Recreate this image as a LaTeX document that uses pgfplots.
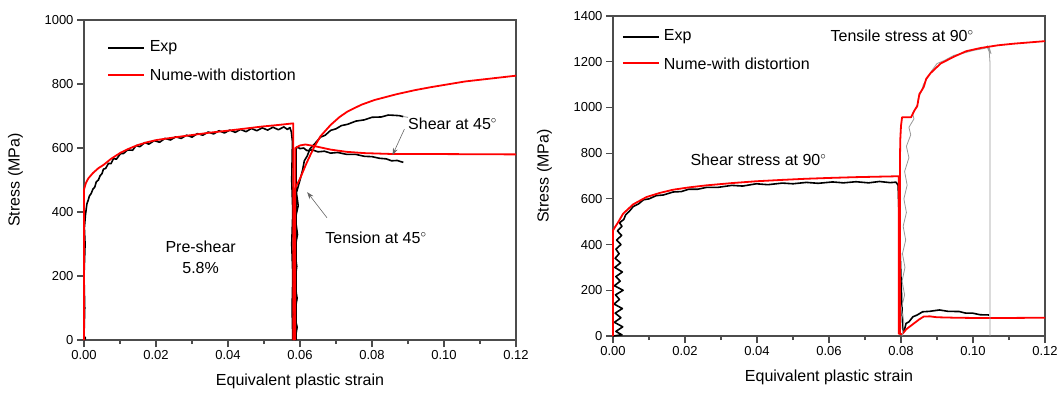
\documentclass[border=0pt]{standalone}
\usepackage{fontspec}
\setmainfont{Liberation Sans}
\usepackage{pgfplots}
\pgfplotsset{compat=1.18}
\usetikzlibrary{arrows.meta}

\tikzset{
  expline/.style={black, line width=1.6pt, line join=round},
  numline/.style={red, line width=1.8pt, line join=round},
  greyline/.style={black!40, line width=0.8pt, line join=round},
  lbl/.style={font=\fontsize{16}{19}\selectfont, inner sep=0pt, text=black},
}
\pgfplotsset{
  myax/.style={
    scale only axis, width=432pt, height=320pt, anchor=south west,
    xmin=0, xmax=0.12, ymin=0,
    xtick={0,0.02,0.04,0.06,0.08,0.10,0.12}, minor x tick num=1,
    axis line style={black!70, line width=1.2pt},
    every tick/.style={black!70, line width=1.2pt},
    major tick length=7pt, minor tick length=4pt,
    tick align=outside, xtick pos=bottom, ytick pos=left,
    /pgf/number format/assume math mode=true,
    /pgf/number format/1000 sep={},
    xticklabel style={/pgf/number format/.cd, fixed, fixed zerofill, precision=2, assume math mode=true},
    scaled x ticks=false,
    ticklabel style={font=\fontsize{13}{15}\selectfont},
    label style={font=\fontsize{16}{19}\selectfont},
    xlabel={Equivalent plastic strain}, ylabel={Stress (MPa)},
    xlabel style={at={(axis description cs:0.5,-0.128)}, anchor=center},
    ylabel style={at={(axis description cs:-0.1586,0.5)}, anchor=center},
    clip=false,
  },
}

\begin{document}
\begin{tikzpicture}
\useasboundingbox (0,0) rectangle (1062pt,392pt);

% ---------------- left panel ----------------
\begin{axis}[myax, at={(84pt,52pt)}, ymax=1000, ytick={0,200,...,1000}]
\addplot[expline] table {
0 0
0.0004 6
0 12
0.0002 100
0 200
0.0003 300
0.0001 350
0.0004 390
0.0008 425
0.0012 438
0.0015 450
0.0020 458
0.0025 472
0.0030 478
0.0034 494
0.0040 500
0.0045 514
0.0050 520
0.0054 534
0.0060 536
0.0068 552
0.0075 551
0.0082 567
0.009 565
0.0101 582
0.0110 583
0.0121 594
0.0135 593
0.0145 608
0.0155 604
0.0169 617
0.0180 612
0.0195 623
0.0210 618
0.0225 630
0.0240 625
0.0255 635
0.0270 630
0.0285 640
0.0300 634
0.0315 645
0.0330 640
0.0345 650
0.0360 644
0.0375 654
0.0390 647
0.0405 656
0.0420 649
0.0435 658
0.0450 651
0.0465 661
0.0480 654
0.0495 663
0.0510 656
0.0525 665
0.0540 657
0.0555 666
0.0565 658
0.0572 664
0.0576 650
0.0579 620
0.0577 500
0.0580 400
0.0577 300
0.0580 200
0.0578 100
0.0580 0
};
\addplot[numline] table {
0 0
0 470
0.0005 490
0.0012 505
0.0025 522
0.004 537
0.0054 547
0.0075 566
0.0101 585
0.0125 598
0.0149 609
0.0175 618
0.0202 625
0.025 633
0.0303 641
0.035 648
0.0398 654
0.045 661
0.0494 667
0.054 672
0.0581 677
0.0581 0
};
% exp tension at 45
\addplot[expline] table {
0.0586 0
0.0592 40
0.0584 80
0.0592 130
0.0585 180
0.0591 230
0.0585 280
0.0593 330
0.0587 380
0.0595 420
0.0590 460
0.0600 500
0.0607 530
0.0612 560
0.0620 575
0.0628 598
0.0640 612
0.0657 634
0.0670 640
0.0685 655
0.0700 660
0.0715 670
0.0732 674
0.0755 684
0.0779 688
0.0800 696
0.0826 697
0.0845 703
0.0864 702
0.0876 701
0.0887 698
};
% exp shear at 45
\addplot[expline] table {
0.0589 0
0.0589 595
0.0592 604
0.0600 598
0.0610 600
0.0619 592
0.0635 594
0.0650 588
0.0668 590
0.0685 584
0.0705 586
0.0730 580
0.0755 580
0.0779 574
0.0800 573
0.0820 568
0.0840 566
0.0854 560
0.0870 561
0.0887 555
};
% nume tension at 45
\addplot[numline] table {
0.0584 0
0.0585 470
0.0601 507
0.0619 555
0.0638 600
0.0657 637
0.0685 672
0.0710 697
0.0732 714
0.0770 735
0.0807 750
0.0868 768
0.0920 781
0.0963 790
0.1059 808
0.12 826
};
% nume shear at 45
\addplot[numline] table {
0.0587 0
0.0587 600
0.0600 608
0.0615 611
0.0640 606
0.0685 595
0.0730 588
0.0779 584
0.0864 581
0.10 581
0.12 580
};
% legend
\draw[expline] (axis description cs:0.0556,0.9125) -- ++(36pt,0pt) node[lbl, anchor=west, xshift=5pt] {Exp};
\draw[numline] (axis description cs:0.0556,0.8281) -- ++(36pt,0pt) node[lbl, anchor=west, xshift=5pt] {Nume-with distortion};
% annotations
\draw[black!60, line width=0.6pt] (axis cs:0.0887,698) -- (axis cs:0.0900,696);
\draw[black!60, line width=0.6pt, -{Stealth[length=7pt,width=5pt]}] (axis cs:0.0890,659) -- (axis cs:0.0857,578);
\draw[black!60, line width=0.6pt, -{Stealth[length=7pt,width=5pt]}] (axis cs:0.0675,382) -- (axis cs:0.0620,462);
\node[lbl, anchor=west] at (axis cs:0.0900,675) {Shear at 45$^\circ$};
\node[lbl] at (axis cs:0.0811,319) {Tension at 45$^\circ$};
\node[lbl, align=center] at (axis cs:0.0324,257) {Pre-shear\\[2pt]5.8\%};
\end{axis}

% ---------------- right panel ----------------
\begin{axis}[myax, at={(613pt,56pt)}, ymax=1400, ytick={0,200,...,1400}]
\addplot[expline] table {
0 0
0.0025 5
0.0008 20
0.0027 40
0.0004 60
0.0022 80
0.0006 100
0.0026 120
0.0003 140
0.0018 160
0.0007 180
0.0028 200
0.0004 220
0.0020 240
0.0008 260
0.0026 280
0.0005 300
0.0021 320
0.0006 340
0.0017 360
0.0008 380
0.0022 400
0.0010 420
0.0024 440
0.0012 460
0.0025 480
0.0018 495
0.0030 510
0.0035 530
0.0045 545
0.0056 566
0.0070 577
0.0085 596
0.0100 600
0.0120 614
0.0140 617
0.0167 630
0.0190 632
0.0210 642
0.0235 642
0.0259 650
0.0290 650
0.0330 659
0.0360 656
0.0398 666
0.0430 662
0.0470 669
0.0500 666
0.0537 672
0.0570 668
0.0610 674
0.0640 670
0.0675 675
0.0710 670
0.0740 676
0.0770 671
0.0786 673
0.0792 660
0.0797 400
0.0802 150
0.0805 30
0.0808 18
0.0814 55
0.0822 62
0.0833 84
0.0845 92
0.0860 106
0.0880 108
0.0907 114
0.0930 108
0.0962 107
0.0980 100
0.0999 100
0.1020 93
0.1045 92
};
\addplot[numline] table {
0 0
0 462
0.0007 480
0.0014 497
0.0028 535
0.0056 576
0.0093 608
0.0130 626
0.0167 640
0.0210 650
0.0259 659
0.0330 669
0.0398 677
0.0470 683
0.0537 688
0.0610 692
0.0675 695
0.0794 699
0.0794 10
0.0803 8
0.0815 30
0.0835 54
0.0850 72
0.0863 85
0.0880 86
0.0900 82
0.0950 80
0.1000 79
0.1100 79
0.1200 80
};
% exp tensile at 90 (grey)
\addplot[greyline] table {
0.0803 0
0.0808 60
0.0801 120
0.0810 180
0.0803 240
0.0811 300
0.0804 360
0.0813 420
0.0806 480
0.0815 540
0.0808 600
0.0817 660
0.0810 720
0.0822 780
0.0815 830
0.0827 880
0.0822 913
0.0836 950
0.0832 975
0.0845 1010
0.0848 1040
0.0858 1075
0.0862 1100
0.0876 1135
0.0885 1160
0.0900 1192
0.0920 1205
0.0947 1228
0.0975 1238
0.1003 1250
0.1025 1256
0.1040 1262
0.1046 1240
0.1040 1270
0.1050 1235
0.1044 1268
0.1047 1200
0.1047 0
};
% nume tensile at 90
\addplot[numline] table {
0.0797 10
0.0797 760
0.0798 860
0.0800 920
0.0803 957
0.0828 957
0.0837 986
0.0845 1005
0.0851 1058
0.0863 1089
0.0870 1125
0.0882 1150
0.0910 1192
0.0947 1222
0.0981 1246
0.1021 1260
0.1070 1272
0.1114 1279
0.1200 1290
};
% legend
\draw[black, line width=1.8pt] (axis description cs:0.0231,0.9340) -- ++(36pt,0pt) node[lbl, anchor=west, xshift=4pt] {Exp};
\draw[numline] (axis description cs:0.0231,0.8521) -- ++(36pt,0pt) node[lbl, anchor=west, xshift=4pt] {Nume-with distortion};
\node[lbl] at (axis cs:0.0803,1312) {Tensile stress at 90$^\circ$};
\node[lbl] at (axis cs:0.0404,770) {Shear stress at 90$^\circ$};
\end{axis}
\end{tikzpicture}
\end{document}
